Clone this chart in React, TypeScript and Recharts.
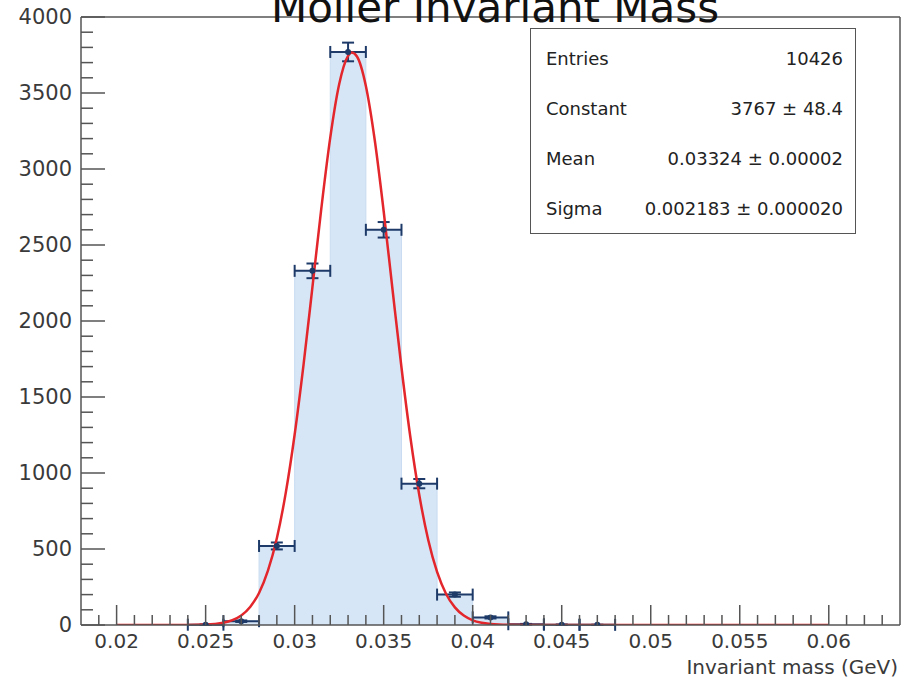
import React from "react";
import {
    ComposedChart,
    Area,
    Line,
    Scatter,
    ErrorBar,
    XAxis,
    YAxis,
    ReferenceLine
} from "recharts";

const FONT = "'DejaVu Sans', 'Liberation Sans', sans-serif";
const AXIS = "#555";
const NAVY = "#1d3a68";

// histogram: bin low edges (GeV), bin width 0.002, counts
const binEdges = [0.024, 0.026, 0.028, 0.030, 0.032, 0.034, 0.036, 0.038, 0.040, 0.042, 0.044, 0.046];
const binCounts = [2, 25, 520, 2330, 3770, 2600, 930, 200, 50, 5, 2, 1];
const BIN_W = 0.002;

// gaussian fit curve as drawn (x in GeV, height in entries)
const fitX = [0.020, 0.024, 0.025, 0.0255, 0.026, 0.0265, 0.027, 0.0275, 0.028, 0.0285, 0.029, 0.0295, 0.030, 0.0305, 0.031, 0.0315, 0.032, 0.0325, 0.033, 0.0332, 0.0335, 0.034, 0.0345, 0.035, 0.0355, 0.036, 0.0365, 0.037, 0.0375, 0.038, 0.0385, 0.039, 0.0395, 0.040, 0.0405, 0.041, 0.042, 0.043, 0.060];
const fitY = [0, 0, 3, 7, 15, 32, 63, 119, 211, 357, 571, 869, 1253, 1713, 2224, 2742, 3206, 3557, 3744, 3766, 3740, 3546, 3189, 2722, 2204, 1694, 1235, 855, 561, 349, 206, 116, 62, 31, 15, 7, 1, 0, 0];

const xMajor = [0.02, 0.025, 0.03, 0.035, 0.04, 0.045, 0.05, 0.055, 0.06];
const xMajorLabels = ["0.02", "0.025", "0.03", "0.035", "0.04", "0.045", "0.05", "0.055", "0.06"];
const yMajor = [0, 500, 1000, 1500, 2000, 2500, 3000, 3500, 4000];

const X_MIN = 0.018;
const X_MAX = 0.064;
const Y_MAX = 4000;

const stats = [
    ["Entries", "10426"],
    ["Constant", "3767 \u00b1 48.4"],
    ["Mean", "0.03324 \u00b1 0.00002"],
    ["Sigma", "0.002183 \u00b1 0.000020"]
];

// axis ticks: minor every 0.001 / 100
const xTicks: number[] = [];
for (let i = 19; i <= 63; i++) xTicks.push(Math.round(i * 1e6) / 1e9);
const yTicks: number[] = [];
for (let v = 0; v <= Y_MAX; v += 100) yTicks.push(v);

const histData = binEdges.map((x, i) => ({ x, y: binCounts[i] }));
histData.push({ x: binEdges[binEdges.length - 1] + BIN_W, y: binCounts[binCounts.length - 1] });

const pointData = binEdges.map((x, i) => ({
    x: x + BIN_W / 2,
    y: binCounts[i],
    ex: BIN_W / 2,
    ey: Math.sqrt(binCounts[i])
}));

const fitData = fitX.map((x, i) => ({ x, y: fitY[i] }));

function XTick({ x, y, payload }: any) {
    const v = payload.value;
    const idx = xMajor.findIndex(m => Math.abs(m - v) < 1e-7);
    const major = idx >= 0;
    return (
        <g>
            <line x1={x} x2={x} y1={y} y2={y - (major ? 20 : 10)} stroke={AXIS} strokeWidth={1.5} />
            {major && (
                <text x={x} y={y + 23} textAnchor="middle" fontFamily={FONT} fontSize={20} fill="#3a3a3a">
                    {xMajorLabels[idx]}
                </text>
            )}
        </g>
    );
}

function YTick({ x, y, payload }: any) {
    const v = payload.value;
    const major = yMajor.includes(v);
    return (
        <g>
            <line x1={x} x2={x + (major ? 24 : 12)} y1={y} y2={y} stroke={AXIS} strokeWidth={1.5} />
            {major && (
                <text x={x - 9} y={y + 7} textAnchor="end" fontFamily={FONT} fontSize={21} fill="#3a3a3a">
                    {v}
                </text>
            )}
        </g>
    );
}

const dot = (p: any) => <circle cx={p.cx} cy={p.cy} r={3} fill={NAVY} />;

export default function App() {
    return (
        <div style={{ position: "absolute", left: 0, top: 0, width: 910, height: 678, background: "#fff", overflow: "hidden" }}>
            <ComposedChart width={910} height={678} margin={{ top: 17, right: 10, bottom: 23, left: 0 }}>
                <XAxis
                    type="number"
                    dataKey="x"
                    domain={[X_MIN, X_MAX]}
                    ticks={xTicks}
                    interval={0}
                    tick={<XTick />}
                    tickLine={false}
                    tickSize={0}
                    tickMargin={0}
                    height={30}
                    allowDataOverflow
                    axisLine={{ stroke: AXIS, strokeWidth: 1.5 }}
                />
                <YAxis
                    type="number"
                    dataKey="y"
                    domain={[0, Y_MAX]}
                    ticks={yTicks}
                    interval={0}
                    tick={<YTick />}
                    tickLine={false}
                    tickSize={0}
                    tickMargin={0}
                    width={81}
                    allowDataOverflow
                    axisLine={{ stroke: AXIS, strokeWidth: 1.5 }}
                />
                <Area
                    data={histData}
                    dataKey="y"
                    type="stepAfter"
                    fill="#d7e6f6"
                    fillOpacity={1}
                    stroke="#c9dcf1"
                    strokeWidth={1}
                    isAnimationActive={false}
                />
                <Scatter data={pointData} shape={dot} isAnimationActive={false}>
                    <ErrorBar dataKey="ex" direction="x" width={6} stroke={NAVY} strokeWidth={2} />
                    <ErrorBar dataKey="ey" direction="y" width={6} stroke={NAVY} strokeWidth={2} />
                </Scatter>
                <Line
                    data={fitData}
                    dataKey="y"
                    type="monotone"
                    stroke="#e3262b"
                    strokeWidth={2.5}
                    dot={false}
                    isAnimationActive={false}
                />
                <ReferenceLine y={Y_MAX} stroke={AXIS} strokeWidth={1.5} />
                <ReferenceLine x={X_MAX} stroke={AXIS} strokeWidth={1.5} />
            </ComposedChart>

            <div style={{ position: "absolute", left: 0, top: -16, width: 990, textAlign: "center", fontFamily: FONT, fontSize: 42, color: "#111", lineHeight: "48px" }}>
                Moller Invariant Mass
            </div>

            <div style={{ position: "absolute", right: 12, top: 655, fontFamily: FONT, fontSize: 20, color: "#3a3a3a", lineHeight: "24px" }}>
                Invariant mass (GeV)
            </div>

            <div style={{ position: "absolute", left: 530, top: 28, width: 324, height: 204, border: `1.5px solid ${AXIS}`, background: "#fff", fontFamily: FONT, fontSize: 18, color: "#222" }}>
                {stats.map(([k, v], i) => (
                    <div key={k} style={{ position: "absolute", left: 15, right: 12, top: 18 + i * 50, display: "flex", justifyContent: "space-between", lineHeight: "24px" }}>
                        <span>{k}</span>
                        <span>{v}</span>
                    </div>
                ))}
            </div>
        </div>
    );
}
